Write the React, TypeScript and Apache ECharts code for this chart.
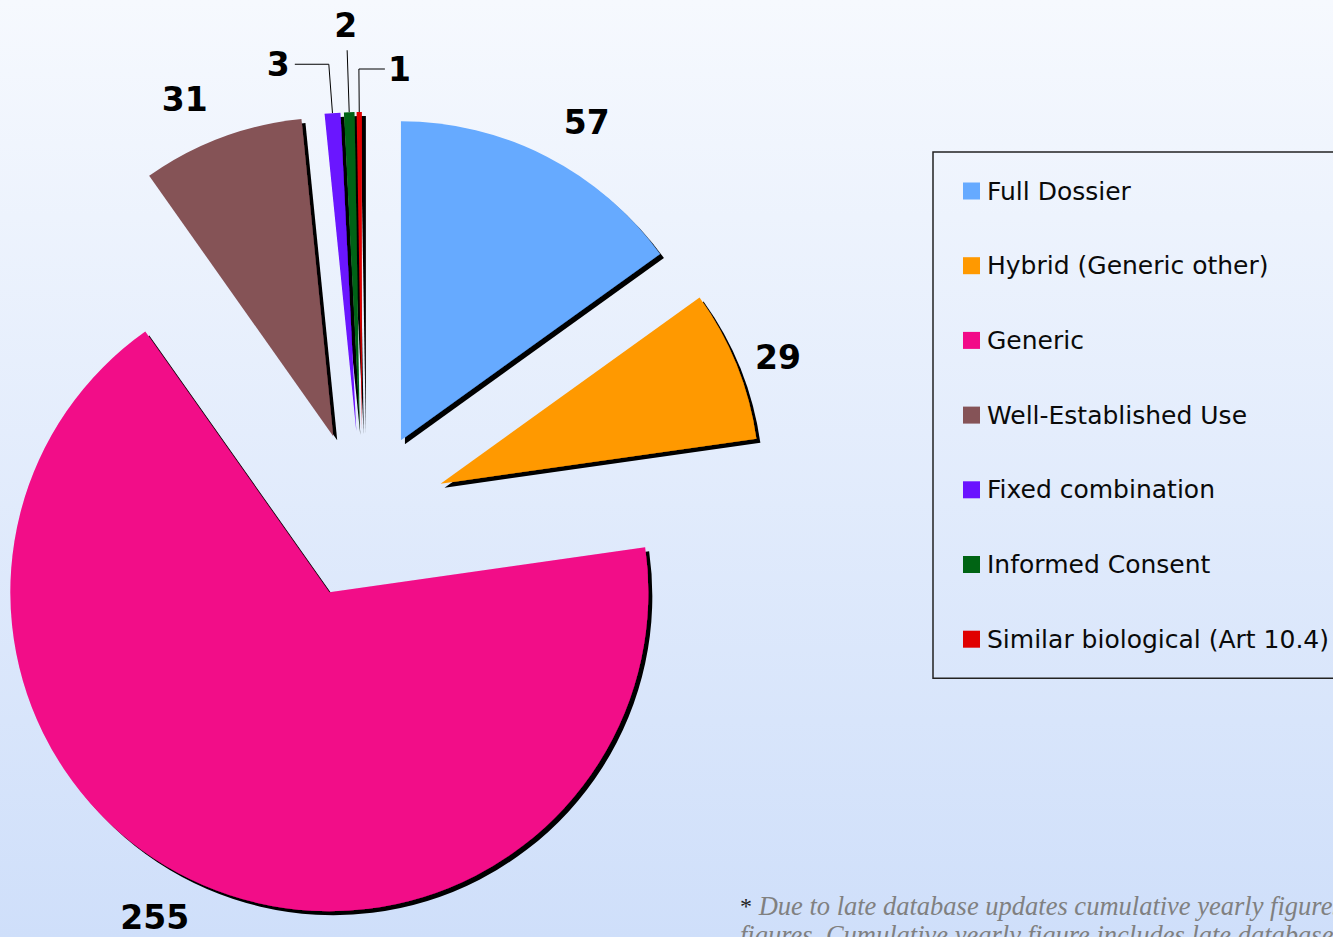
import React, { useEffect, useRef } from "react";
import * as echarts from "echarts";

const categories = [
  "Full Dossier",
  "Hybrid (Generic other)",
  "Generic",
  "Well-Established Use",
  "Fixed combination",
  "Informed Consent",
  "Similar biological (Art 10.4)",
];
const values = [57, 29, 255, 31, 3, 2, 1];
const colors = ["#66aaff", "#ff9900", "#f20a88", "#855357", "#6a12ff", "#006414", "#e00000"];
const footnoteLine1 = "Due to late database updates cumulative yearly figures may differ from monthly";
const footnoteLine2 = "figures. Cumulative yearly figure includes late database updates.";

// per-slice label guide settings (lengths only)
const labelGuides = [
  { show: false, length: 38, length2: 0, dist: 0, raise: false },
  { show: false, length: 20, length2: 0, dist: 0, raise: false },
  { show: false, length: 35, length2: 0, dist: 0, raise: false },
  { show: false, length: 40, length2: 0, dist: 0, raise: false },
  { show: true, length: 49, length2: 34, dist: 5, raise: false },
  { show: true, length: 62, length2: 0, dist: -10, raise: true },
  { show: true, length: 43, length2: -26, dist: -26, raise: false },
];

export default function App() {
  const ref = useRef<HTMLDivElement>(null);
  useEffect(() => {
    if (!ref.current) return;
    const chart = echarts.init(ref.current, null, { renderer: "svg" });
    const data = categories.map((name, i) => ({
      name,
      value: values[i],
      selected: true,
      itemStyle: { color: colors[i] },
      label: labelGuides[i].raise
        ? {
            distanceToLabelLine: labelGuides[i].dist,
            formatter: "{c}\n ",
            lineHeight: 50,
          }
        : { distanceToLabelLine: labelGuides[i].dist },
      labelLine: {
        show: labelGuides[i].show,
        length: labelGuides[i].length,
        length2: labelGuides[i].length2,
      },
    }));
    chart.setOption({
      animation: false,
      backgroundColor: new echarts.graphic.LinearGradient(0, 0, 0, 1, [
        { offset: 0, color: "#f6f9fe" },
        { offset: 1, color: "#cfdffa" },
      ]),
      legend: {
        orient: "vertical",
        left: 933,
        top: 152,
        padding: [26.5, 40, 26.5, 30],
        itemGap: 49.7,
        itemWidth: 17,
        itemHeight: 17,
        icon: "rect",
        borderColor: "#222",
        borderWidth: 1.5,
        selectedMode: false,
        textStyle: {
          fontFamily: "DejaVu Sans",
          fontSize: 25,
          lineHeight: 25,
          color: "#0a0a0a",
          padding: [0, 0, 0, 2],
        },
        data: categories,
      },
      series: [
        {
          type: "pie",
          center: [362.6, 515],
          radius: 319,
          startAngle: 90,
          clockwise: true,
          selectedMode: "multiple",
          selectedOffset: 84,
          avoidLabelOverlap: false,
          emphasis: { disabled: true },
          itemStyle: {
            shadowBlur: 0,
            shadowOffsetX: 4,
            shadowOffsetY: 4,
            shadowColor: "#000",
          },
          label: {
            show: true,
            position: "outside",
            formatter: "{c}",
            fontFamily: "DejaVu Sans",
            fontWeight: "bold",
            fontSize: 33,
            color: "#000",
          },
          labelLine: {
            minTurnAngle: 0,
            maxSurfaceAngle: 180,
            lineStyle: { color: "#000", width: 1 },
          },
          data,
        },
      ],
      graphic: [
        {
          type: "text",
          left: 740,
          top: 891,
          style: {
            text: "{a|*} " + footnoteLine1 + "\n" + footnoteLine2,
            font: 'italic 26.5px "Liberation Serif"',
            lineHeight: 29,
            fill: "#808080",
            rich: {
              a: {
                font: '24px "Liberation Serif"',
                fill: "#222",
                lineHeight: 29,
              },
            },
          },
        },
      ],
    });
    return () => chart.dispose();
  }, []);
  return (
    <div
      ref={ref}
      style={{ position: "fixed", left: 0, top: 0, width: 1333, height: 937 }}
    />
  );
}
